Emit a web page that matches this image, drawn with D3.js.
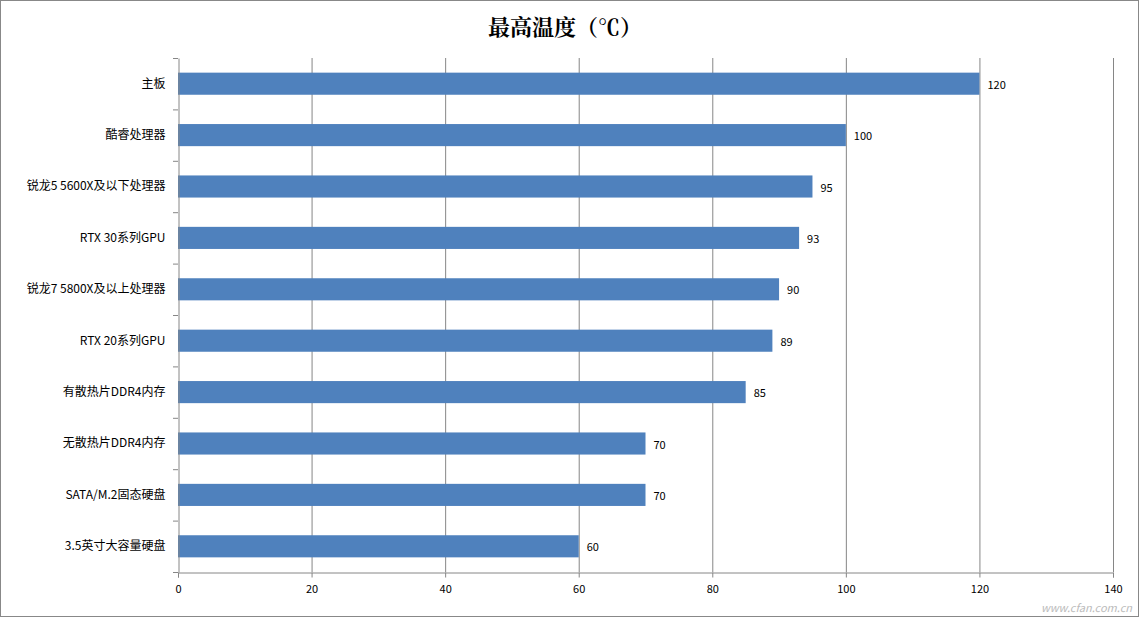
<!DOCTYPE html>
<html><head><meta charset="utf-8">
<script src="https://cdn.jsdelivr.net/npm/d3@7"></script>
<style>body{margin:0;background:#fff}</style>
</head><body><div id="chart"></div>
<script>
const categories = ["主板","酷睿处理器","锐龙5 5600X及以下处理器","RTX 30系列GPU","锐龙7 5800X及以上处理器","RTX 20系列GPU","有散热片DDR4内存","无散热片DDR4内存","SATA/M.2固态硬盘","3.5英寸大容量硬盘"];
const values = [120,100,95,93,90,89,85,70,70,60];
const ticks = [0,20,40,60,80,100,120,140];

const W = 1139, H = 617;
const svg = d3.select("#chart").append("svg").attr("width", W).attr("height", H)
  .style("font-family", "'Noto Sans CJK SC', 'Noto Sans', sans-serif");

svg.append("rect").attr("x", 0.5).attr("y", 0.5).attr("width", W - 1).attr("height", H - 1)
  .attr("fill", "#fff").attr("stroke", "#888");

svg.append("text").attr("x", 565).attr("y", 35).attr("text-anchor", "middle")
  .style("font-size", "22px").style("font-weight", "bold").style("font-family", "'Noto Serif CJK SC','Noto Sans CJK SC',serif")
  .text("最高温度（℃）");

const x = d3.scaleLinear().domain([0, 140]).range([178, 1113]);
const y = d3.scaleBand().domain(categories).range([58, 572]).paddingInner(0.57).paddingOuter(0.285);

svg.append("g").selectAll("line").data(ticks.slice(1)).join("line")
  .attr("x1", d => x(d) + 0.5).attr("x2", d => x(d) + 0.5).attr("y1", 58).attr("y2", 572)
  .attr("stroke", "#868686");

svg.append("g").selectAll("rect").data(values).join("rect")
  .attr("x", x(0)).attr("y", (d, i) => y(categories[i]))
  .attr("width", d => x(d) - x(0)).attr("height", y.bandwidth())
  .attr("fill", "#4f81bd");

svg.append("g").selectAll("text").data(values).join("text")
  .attr("x", d => x(d) + 8).attr("y", (d, i) => y(categories[i]) + y.bandwidth() / 2 + 5)
  .style("font-size", "11px").text(d => d);

const xAxis = svg.append("g").attr("transform", "translate(0,572.5)")
  .call(d3.axisBottom(x).tickValues(ticks).tickSize(5).tickPadding(8));
const yAxis = svg.append("g").attr("transform", "translate(178.5,0)")
  .call(d3.axisLeft(y).tickSize(0).tickPadding(13));
yAxis.selectAll("text").style("font-size", "12px");
// category boundary ticks on the left axis
const step = y.step();
svg.append("g").selectAll("line").data(d3.range(categories.length + 1)).join("line")
  .attr("x1", 173).attr("x2", 178).attr("y1", i => 58 + i * step + 0.5).attr("y2", i => 58 + i * step + 0.5)
  .attr("stroke", "#868686");
[xAxis, yAxis].forEach(g => {
  g.select(".domain").attr("stroke", "#868686");
  g.selectAll(".tick line").attr("stroke", "#868686");
  g.selectAll("text").style("font-family", "'Noto Sans CJK SC', 'Noto Sans', sans-serif").attr("fill", "#000");
});
xAxis.selectAll("text").style("font-size", "11px");

svg.append("text").attr("x", 1132).attr("y", 612).attr("text-anchor", "end")
  .style("font-size", "11px").style("font-style", "italic").attr("fill", "#bbb").text("www.cfan.com.cn");
</script></body></html>
